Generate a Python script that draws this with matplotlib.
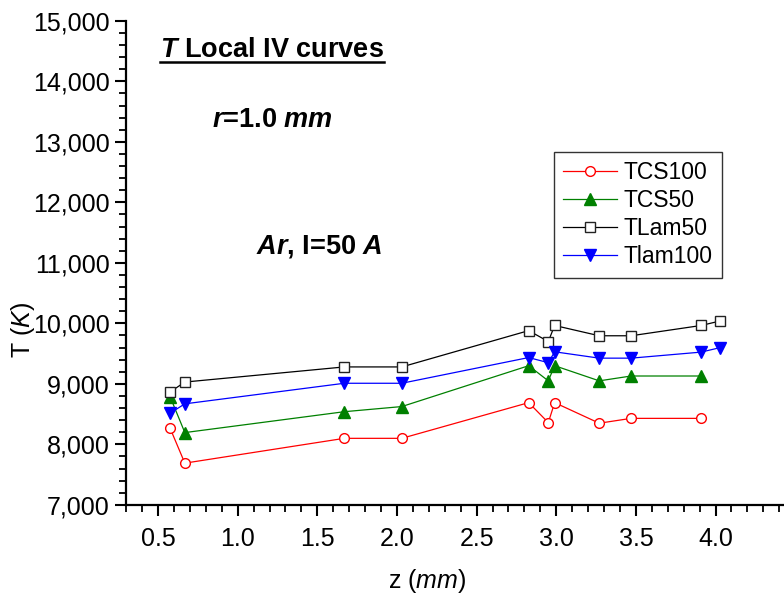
import numpy as np
import matplotlib
matplotlib.use("Agg")
import matplotlib.pyplot as plt
from matplotlib.ticker import MultipleLocator, StrMethodFormatter
from matplotlib.lines import Line2D

# fonts: Arial-like, with bold-italic pieces via \mathsf
plt.rcParams['font.family'] = ['Liberation Sans', 'DejaVu Sans']
plt.rcParams['mathtext.fontset'] = 'custom'
plt.rcParams['mathtext.rm'] = 'Liberation Sans'
plt.rcParams['mathtext.it'] = 'Liberation Sans:italic'
plt.rcParams['mathtext.bf'] = 'Liberation Sans:bold'
plt.rcParams['mathtext.sf'] = 'Liberation Sans:italic:bold'

# data
z_cs = [0.575, 0.668, 1.669, 2.03, 2.827, 2.95, 2.99, 3.27, 3.47, 3.91]
z_lam = [0.575, 0.668, 1.669, 2.03, 2.827, 2.95, 2.99, 3.27, 3.47, 3.91, 4.03]

tcs100 = [8270, 7690, 8100, 8100, 8690, 8360, 8690, 8350, 8430, 8430]
tcs50 = [8790, 8195, 8540, 8625, 9300, 9050, 9300, 9050, 9130, 9130]
tlam50 = [8865, 9030, 9280, 9280, 9880, 9700, 9965, 9795, 9795, 9965, 10040]
tlam100 = [8515, 8670, 9010, 9010, 9435, 9350, 9530, 9425, 9425, 9525, 9600]

fig = plt.figure(figsize=(7.84, 5.94), dpi=100)
ax = fig.add_axes([0.161, 0.150, 0.839, 0.815])

ax.plot(z_cs, tcs100, color='#ff0000', lw=0.9, marker='o', ms=7,
        mfc='white', mec='#ff0000', mew=1.0, label='TCS100')
ax.plot(z_cs, tcs50, color='#008000', lw=0.9, marker='^', ms=9,
        mfc='#008000', mec='#008000', label='TCS50')
ax.plot(z_lam, tlam50, color='black', lw=0.9, marker='s', ms=6.5,
        mfc='white', mec='#222222', mew=1.0, label='TLam50')
ax.plot(z_lam, tlam100, color='#0000ff', lw=0.9, marker='v', ms=9,
        mfc='#0000ff', mec='#0000ff', label='Tlam100')

ax.set_xlim(0.3, 4.43)
ax.set_ylim(7000, 15000)
ax.xaxis.set_major_locator(MultipleLocator(0.5))
ax.xaxis.set_minor_locator(MultipleLocator(0.1))
ax.yaxis.set_major_locator(MultipleLocator(1000))
ax.yaxis.set_minor_locator(MultipleLocator(200))
ax.yaxis.set_major_formatter(StrMethodFormatter('{x:,.0f}'))
ax.xaxis.set_major_formatter(StrMethodFormatter('{x:.1f}'))

for s in ['top', 'right']:
    ax.spines[s].set_visible(False)
for s in ['left', 'bottom']:
    ax.spines[s].set_linewidth(1.6)
ax.tick_params(which='major', length=8, width=1.5, labelsize=18, pad=4)
ax.tick_params(axis='x', which='major', pad=8)
ax.tick_params(which='minor', length=5, width=1.3)

ax.set_xlabel('z ($\\mathit{mm}$)', fontsize=18)
ax.set_ylabel('T ($\\mathit{K}$)', fontsize=18)
ax.xaxis.set_label_coords(0.457, -0.128)
ax.yaxis.set_label_coords(-0.136, 0.361)

title = ax.text(0.513, 14405, '$\\mathsf{T}$ Local IV curves', fontsize=19.5,
                fontweight='bold', va='baseline', ha='left')
ax.text(0.84, 13248, '$\\mathsf{r}$=1.0 $\\mathsf{mm}$', fontsize=19.5,
        fontweight='bold', va='baseline', ha='left')
ax.text(1.114, 11149, '$\\mathsf{Ar}$, I=50 $\\mathsf{A}$', fontsize=19.5,
        fontweight='bold', va='baseline', ha='left')

leg = ax.legend(loc='upper left', bbox_to_anchor=(0.7066, 0.744),
                bbox_transform=fig.transFigure, borderaxespad=0,
                fontsize=16.5, handlelength=2.35, handletextpad=0.3,
                labelspacing=0.22, borderpad=0.4, fancybox=False,
                framealpha=1, edgecolor='#333333')
leg.get_frame().set_linewidth(1.0)

# underline the title text
fig.canvas.draw()
bb = title.get_window_extent()
inv = fig.transFigure.inverted()
(x0, y0), (x1, _) = inv.transform([(bb.x0, bb.y0 + 1), (bb.x1, bb.y0 + 1)])
fig.add_artist(Line2D([x0, x1], [y0, y0], transform=fig.transFigure,
                      color='black', lw=1.8))

fig.savefig('out.png', dpi=100)
